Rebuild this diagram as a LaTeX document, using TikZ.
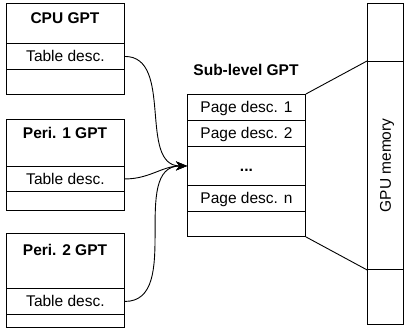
\documentclass[tikz,border=0pt]{standalone}
\usepackage{fontspec}
\setmainfont{Liberation Sans}
\usepackage{tikz}
\usetikzlibrary{arrows.meta,positioning,calc}

\begin{document}
\begin{tikzpicture}[x=1pt,y=-1pt,
    cell/.style={draw, line width=0.9pt, fill=white, minimum width=118pt, inner sep=0pt,
        anchor=north west, text height=11pt, text depth=0pt, font=\fontsize{15.5}{18}\selectfont},
    ttl/.style={inner sep=0pt, text height=11pt, text depth=0pt, font=\fontsize{15.5}{18}\selectfont\bfseries},
    link/.style={line width=0.9pt, -{Stealth[length=11pt,width=9pt]}}]
    \useasboundingbox (0,0) rectangle (404,328);

    % CPU table
    \node [cell, minimum height=40pt] (cpuH) at (6,3) {};
    \node [cell, minimum height=26pt] (cpuT) at (6,43) {Table desc.};
    \node [cell, minimum height=25pt] (cpuE) at (6,69) {};
    \node [ttl] (cpuL) at (65,18) {CPU GPT};

    % Peri. 1 table
    \node [cell, minimum height=47pt] (p1H) at (6,119) {};
    \node [cell, minimum height=25pt] (p1T) at (6,166) {Table desc.};
    \node [cell, minimum height=19pt] (p1E) at (6,191) {};
    \node [ttl] (p1L) at (65,133) {Peri. 1 GPT};

    % Peri. 2 table
    \node [cell, minimum height=55pt] (p2H) at (6,233) {};
    \node [cell, minimum height=26pt] (p2T) at (6,288) {Table desc.};
    \node [cell, minimum height=13pt] (p2E) at (6,314) {};
    \node [ttl] (p2L) at (65,250) {Peri. 2 GPT};

    % sub-level table
    \node [ttl] (subL) at (246,70) {Sub-level GPT};
    \node [cell, minimum height=26pt] (sub1) at (187,94) {Page desc. 1};
    \node [cell, minimum height=26pt] (sub2) at (187,120) {Page desc. 2};
    \node [cell, minimum height=39pt] (subD) at (187,146) {\textbf{...}};
    \node [cell, minimum height=26pt] (subN) at (187,185) {Page desc. n};
    \node [cell, minimum height=25pt] (subE) at (187,211) {};

    % GPU memory
    \node [cell, minimum width=36pt, minimum height=58pt] (mem1) at (367,3) {};
    \node [cell, minimum width=36pt, minimum height=208pt] (mem2) at (367,61) {};
    \node [cell, minimum width=36pt, minimum height=55pt] (mem3) at (367,269) {};
    \node [ttl, font=\fontsize{15.5}{18}\selectfont, rotate=90] (memL) at (mem2.center) {GPU memory};

    \draw [line width=0.9pt] (sub1.north east) -- (mem2.north west);
    \draw [line width=0.9pt] (subE.south east) -- (mem2.south west);

    \draw [link] (cpuT.east) to[out=0, in=180] (subD.west);
    \draw [link] (p1T.east) to[out=0, in=180] (subD.west);
    \draw [link] (p2T.east) to[out=0, in=180] (subD.west);

\end{tikzpicture}
\end{document}
